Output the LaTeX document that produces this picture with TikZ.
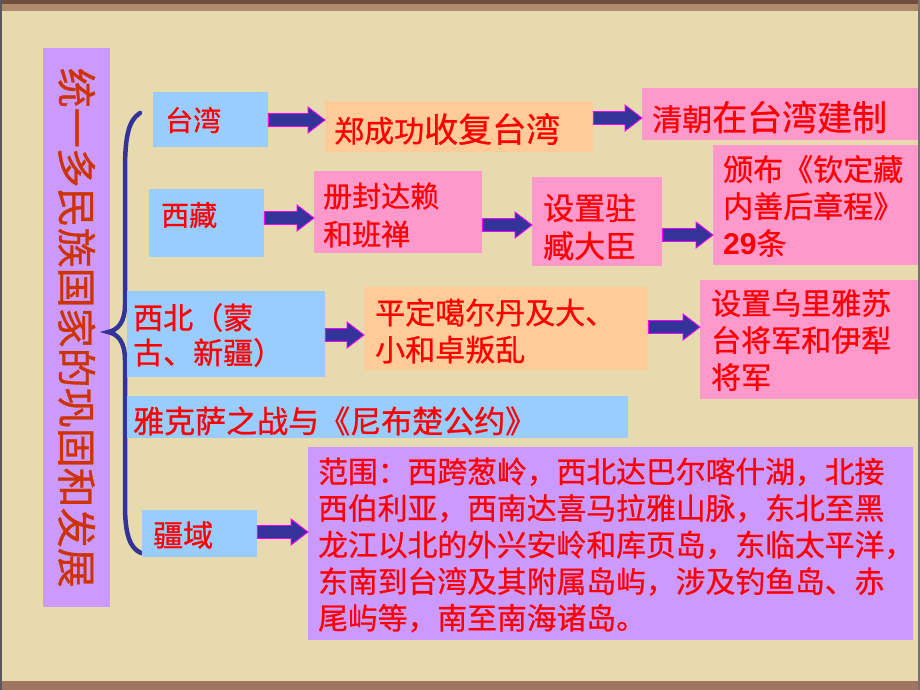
\documentclass[tikz,border=0pt]{standalone}
\usepackage{fontspec}
\setmainfont{Noto Sans CJK SC}[FakeBold=0.8]
\newfontfamily\latinb{Liberation Sans}
\usetikzlibrary{calc}
\definecolor{bgbeige}{RGB}{230,218,174}
\definecolor{bgtop}{RGB}{112,78,62}
\definecolor{bgstrip}{RGB}{176,138,106}
\definecolor{bgbot}{RGB}{160,118,96}
\definecolor{bluebox}{RGB}{153,204,255}
\definecolor{peachbox}{RGB}{255,204,153}
\definecolor{pinkbox}{RGB}{255,153,204}
\definecolor{purplebox}{RGB}{204,153,255}
\definecolor{arrowblue}{RGB}{51,51,153}
\definecolor{arrowmag}{RGB}{255,0,255}
\definecolor{titlered}{RGB}{204,51,0}
\definecolor{txtred}{RGB}{255,0,0}
\tikzset{
  box/.style={draw=none, inner sep=0pt, anchor=north west},
  txt/.style={inner sep=0pt, anchor=west, text=txtred, align=left},
  blockarrow/.style={to path={
    let \p1=(\tikztostart), \p2=(\tikztotarget) in
    (\x1,\y1+6.5pt) -- (\x2-17pt,\y1+6.5pt) -- (\x2-17pt,\y1+13pt) -- (\x2,\y1)
    -- (\x2-17pt,\y1-13pt) -- (\x2-17pt,\y1-6.5pt) -- (\x1,\y1-6.5pt) -- cycle},
    fill=arrowblue, draw=arrowmag, line width=0.9pt, line join=miter},
  bracestyle/.style={draw=arrowblue, line width=4.5pt, line cap=round}
}
\newcommand{\fs}[1]{\fontsize{#1}{#1}\selectfont}
\begin{document}
\begin{tikzpicture}[x=1pt,y=-1pt]
\useasboundingbox (0,0) rectangle (920,690);
% background
\fill[bgbeige] (0,0) rectangle (920,690);
\fill[bgstrip] (0,0) rectangle (920,11);
\fill[bgtop] (0,0) rectangle (920,4);
\fill[bgbot] (0,681) rectangle (920,690);
\fill[black!65] (0,0) rectangle (1.5,690);
\fill[black!55] (918,0) rectangle (920,690);

% title box
\node[box, fill=purplebox, minimum width=67, minimum height=559] (title) at (43,48) {};
\node[rotate=-90, inner sep=0pt, text=titlered, font=\fs{40}] (tt) at (title.center) {统一多民族国家的巩固和发展};

% brace
\draw[bracestyle] (140,113) .. controls (129,120) and (125,135) .. (125,170)
  -- (125,305) .. controls (125,322) and (118,330) .. (108,332)
  .. controls (118,334) and (125,342) .. (125,360)
  -- (125,505) .. controls (125,535) and (130,548) .. (141,553);

% row 1: Taiwan
\node[box, fill=bluebox, minimum width=115, minimum height=55] (tw) at (153,92) {};
\node[txt, font=\fs{28}] (twt) at (165,120) {台湾};
\node[box, fill=peachbox, minimum width=268, minimum height=51] (zcg) at (325,101) {};
\node[txt] (zcgt) at (334,129) {{\fs{30}郑成功}{\fs{34}收复台湾}};
\node[box, fill=pinkbox, minimum width=276, minimum height=52] (qc) at (642,88) {};
\node[txt] (qct) at (652,117) {{\fs{30}清朝}{\fs{35}在台湾建制}};
\draw[blockarrow] (tw.east |- 0,120) to (zcg.west |- 0,120);
\draw[blockarrow] (zcg.east |- 0,118) to (qc.west |- 0,118);

% row 2: Tibet
\node[box, fill=bluebox, minimum width=115, minimum height=68] (xz) at (149,189) {};
\node[txt, font=\fs{28}] (xzt) at (161,215) {西藏};
\node[box, fill=pinkbox, minimum width=168, minimum height=82] (cf) at (314,171) {};
\node[txt, font=\fontsize{29}{38}\selectfont] (cft) at (323,215) {册封达赖\\和班禅};
\node[box, fill=pinkbox, minimum width=130, minimum height=89] (sz) at (532,177) {};
\node[txt, font=\fontsize{31}{38}\selectfont] (szt) at (543,227) {设置驻\\臧大臣};
\node[box, fill=pinkbox, minimum width=205, minimum height=120] (bb) at (713,145) {};
\node[txt, font=\fontsize{30}{37}\selectfont] (bbt) at (723,206) {颁布《钦定藏\\内善后章程》\\{\latinb\bfseries 29}条};
\draw[blockarrow] (xz.east |- 0,218) to (cf.west |- 0,218);
\draw[blockarrow] (cf.east |- 0,225) to (sz.west |- 0,225);
\draw[blockarrow] (sz.east |- 0,235) to (bb.west |- 0,235);

% row 3: Northwest
\node[box, fill=bluebox, minimum width=198, minimum height=86] (xb) at (127,291) {};
\node[txt, font=\fontsize{30}{35}\selectfont] (xbt) at (133,335) {西北（蒙\\古、新疆）};
\node[box, fill=peachbox, minimum width=284, minimum height=83] (pd) at (364,287) {};
\node[txt, font=\fontsize{30}{37}\selectfont] (pdt) at (375,331) {平定噶尔丹及大、\\小和卓叛乱};
\node[box, fill=pinkbox, minimum width=218, minimum height=119] (wl) at (700,280) {};
\node[txt, font=\fontsize{30}{37}\selectfont] (wlt) at (711,340) {设置乌里雅苏\\台将军和伊犁\\将军};
\draw[blockarrow] (xb.east |- 0,335) to (pd.west |- 0,335);
\draw[blockarrow] (pd.east |- 0,327) to (wl.west |- 0,327);

% row 4: Albazin
\node[box, fill=bluebox, minimum width=501, minimum height=42] (ykx) at (127,396) {};
\node[txt, font=\fs{31}] (ykxt) at (133,421) {雅克萨之战与《尼布楚公约》};

% row 5: territory
\node[box, fill=bluebox, minimum width=115, minimum height=47] (jy) at (142,510) {};
\node[txt, font=\fs{30}] (jyt) at (153,535) {疆域};
\node[box, fill=purplebox, minimum width=605, minimum height=193] (fw) at (308,447) {};
\node[txt, font=\fontsize{29.8}{36.6}\selectfont] (fwt) at (318,545) {范围：西跨葱岭，西北达巴尔喀什湖，北接\\西伯利亚，西南达喜马拉雅山脉，东北至黑\\龙江以北的外兴安岭和库页岛，东临太平洋，\\东南到台湾及其附属岛屿，涉及钓鱼岛、赤\\尾屿等，南至南海诸岛。};
\draw[blockarrow] (jy.east |- 0,532) to (fw.west |- 0,532);
\end{tikzpicture}
\end{document}
